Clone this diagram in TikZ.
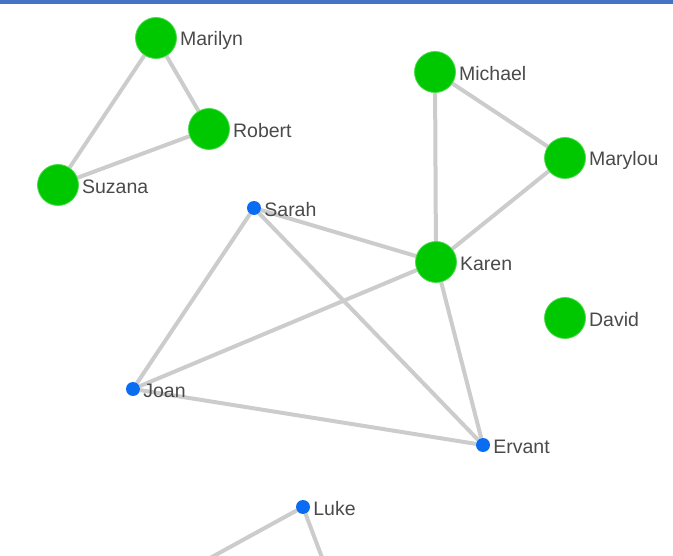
\documentclass[tikz,border=0pt]{standalone}
\usepackage{fontspec}
\setmainfont{Liberation Sans}
\usetikzlibrary{positioning,backgrounds}
\definecolor{edgegray}{HTML}{CCCCCC}
\definecolor{biggreen}{HTML}{00C800}
\definecolor{smallblue}{HTML}{0A6CF0}
\definecolor{labelink}{HTML}{4A4A4A}
\definecolor{topbar}  {HTML}{4472C4}
\tikzset{
  bignode/.style  ={circle, fill=biggreen, draw=biggreen!70!white, line width=0.8pt,
                    minimum size=41pt, inner sep=0pt},
  smallnode/.style={circle, fill=smallblue, minimum size=14pt, inner sep=0pt},
  lbl/.style      ={font=\fontsize{19.5}{23}\selectfont, text=labelink,
                    inner sep=0pt, label distance=3pt, yshift=-2pt},
  link/.style     ={draw=edgegray, line width=4pt},
}
\begin{document}
\begin{tikzpicture}[x=1pt,y=-1pt]
  \useasboundingbox (0,0) rectangle (673,556);
  \clip (0,0) rectangle (673,556);
  \fill[topbar] (0,0) rectangle (673,4);

  % people in the green cluster
  \node[bignode,label={[lbl]east:Marilyn}] (marilyn) at (156,38) {};
  \node[bignode,label={[lbl]east:Robert}]  (robert)  at (209,129) {};
  \node[bignode,label={[lbl]east:Suzana}]  (suzana)  at (58,185) {};
  \node[bignode,label={[lbl]east:Michael}] (michael) at (435,72) {};
  \node[bignode,label={[lbl]east:Marylou}] (marylou) at (565,158) {};
  \node[bignode,label={[lbl]east:Karen}]   (karen)   at (436,262) {};
  \node[bignode,label={[lbl]east:David}]   (david)   at (565,318) {};

  % people in blue
  \node[smallnode,label={[lbl]east:Sarah}]  (sarah)  at (254,208) {};
  \node[smallnode,label={[lbl]east:Joan}]   (joan)   at (133,389) {};
  \node[smallnode,label={[lbl]east:Ervant}] (ervant) at (483,445) {};
  \node[smallnode,label={[lbl]east:Luke}]   (luke)   at (303,507) {};

  \coordinate (lukeleft)  at (170,580);
  \coordinate (lukeright) at (338,600);

  \begin{scope}[on background layer]
    \draw[link] (marilyn) -- (robert);
    \draw[link] (marilyn) -- (suzana);
    \draw[link] (robert) -- (suzana);
    \draw[link] (michael) -- (karen);
    \draw[link] (michael) -- (marylou);
    \draw[link] (marylou) -- (karen);
    \draw[link] (sarah) -- (karen);
    \draw[link] (sarah) -- (joan);
    \draw[link] (sarah) -- (ervant);
    \draw[link] (karen) -- (joan);
    \draw[link] (karen) -- (ervant);
    \draw[link] (joan) -- (ervant);
    \draw[link] (luke) -- (lukeleft);
    \draw[link] (luke) -- (lukeright);
  \end{scope}
\end{tikzpicture}
\end{document}
